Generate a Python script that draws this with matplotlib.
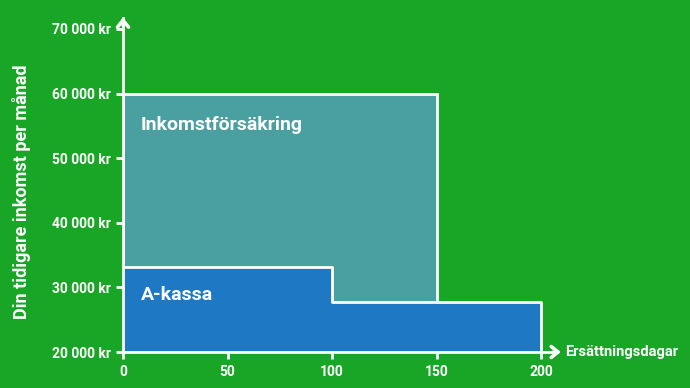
import numpy as np
import matplotlib
matplotlib.use("Agg")
import matplotlib.pyplot as plt

# data
days_akassa = [0, 100, 200]
income_akassa = [33200, 27700, 27700]
days_inkomst = 150
income_inkomst = 60000
y_ticks = [20000, 30000, 40000, 50000, 60000, 70000]
y_ticklabels = ["20 000 kr", "30 000 kr", "40 000 kr", "50 000 kr", "60 000 kr", "70 000 kr"]
x_ticks = [0, 50, 100, 150, 200]

GREEN = "#19a627"
TEAL = "#4a9fa1"
BLUE = "#1e78c3"
WHITE = "white"

plt.rcParams["font.family"] = ["Roboto", "DejaVu Sans"]
plt.rcParams["font.weight"] = "bold"

fig = plt.figure(figsize=(6.9, 3.88), dpi=100, facecolor=GREEN)
W, H = 690, 388
x0, y0 = 123, 352          # pixel position of origin
x_end, y_end = 555, 18     # pixel end of axes lines
ax = fig.add_axes([x0 / W, (H - y0) / H, (x_end - x0) / W, (y0 - y_end) / H])
ax.set_facecolor(GREEN)
ax.set_xlim(0, (x_end - x0) / 2.09)
ax.set_ylim(20000, 20000 + (y0 - y_end) / 0.00646)

# Inkomstförsäkring
ax.bar(0, income_inkomst - 20000, width=days_inkomst, bottom=20000, align="edge",
       color=TEAL, edgecolor=WHITE, linewidth=2, zorder=2)

# A-kassa step shape
ax.fill_between(days_akassa, income_akassa, 20000, step="post", color=BLUE, lw=0, zorder=3)
xs = [0, 100, 100, 200, 200]
ys = [income_akassa[0], income_akassa[0], income_akassa[1], income_akassa[1], 20000]
ax.plot(xs, ys, color=WHITE, lw=2, zorder=4, solid_joinstyle="round")

ax.text(8.6, 55200, "Inkomstförsäkring", color=WHITE, fontsize=14, fontweight="bold",
        va="center", ha="left", zorder=5)
ax.text(8.6, 28800, "A-kassa", color=WHITE, fontsize=14, fontweight="bold",
        va="center", ha="left", zorder=5)

# axes styling
for s in ["top", "right"]:
    ax.spines[s].set_visible(False)
for s in ["left", "bottom"]:
    ax.spines[s].set_color(WHITE)
    ax.spines[s].set_linewidth(2)
    ax.spines[s].set_zorder(6)
ax.set_yticks(y_ticks, y_ticklabels)
ax.set_xticks(x_ticks, [str(v) for v in x_ticks])
ax.tick_params(colors=WHITE, width=2, length=5, labelsize=10, pad=4)
for lab in ax.get_xticklabels() + ax.get_yticklabels():
    lab.set_fontweight("bold")

# arrow heads
ax.annotate("", xy=(0, 1.01), xytext=(0, 0.97), xycoords="axes fraction",
            arrowprops=dict(arrowstyle="->,head_length=0.5,head_width=0.4",
                            color=WHITE, lw=2.5), annotation_clip=False)
ax.annotate("", xy=(1.02, 0), xytext=(0.99, 0), xycoords="axes fraction",
            arrowprops=dict(arrowstyle="->,head_length=0.5,head_width=0.4",
                            color=WHITE, lw=2.5), annotation_clip=False)

ax.set_ylabel("Din tidigare inkomst per månad", color=WHITE, fontsize=13,
              fontweight="bold")
ax.yaxis.set_label_coords(-0.212, 0.48)
fig.text(565 / W, 1 - 352 / H, "Ersättningsdagar", color=WHITE, fontsize=10.5,
         fontweight="bold", va="center", ha="left")

fig.savefig("out.png", dpi=100, facecolor=GREEN)
